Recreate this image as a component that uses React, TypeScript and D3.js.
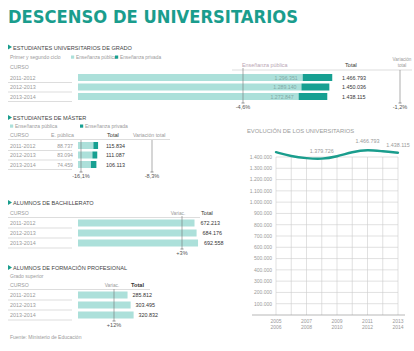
import React from "react";
import * as d3 from "d3";

const univCursos = ["2011-2012", "2012-2013", "2013-2014"];
const univPublica = [1296351, 1289140, 1272847];
const univTotal = [1466793, 1450036, 1438115];
const univVarPublica = "-4,6%";
const univVarTotal = "-1,2%";

const masterCursos = ["2011-2012", "2012-2013", "2013-2014"];
const masterPublica = [88737, 83094, 74459];
const masterTotal = [115834, 111087, 106113];
const masterVarPublica = "-16,1%";
const masterVarTotal = "-8,3%";

const bachCursos = ["2011-2012", "2012-2013", "2013-2014"];
const bachTotal = [672213, 684176, 692558];
const bachVar = "+3%";

const fpCursos = ["2011-2012", "2012-2013", "2013-2014"];
const fpTotal = [285812, 303495, 320832];
const fpVar = "+12%";

const evoCursos = [
  "2005-2006", "2006-2007", "2007-2008", "2008-2009", "2009-2010",
  "2010-2011", "2011-2012", "2012-2013", "2013-2014",
];
const evoValues = [1443000, 1406000, 1388000, 1379726, 1404000, 1445000, 1466793, 1450036, 1438115];
const evoLabeled = [3, 6, 8];
const evoTicks = d3.range(100000, 1400001, 100000);

const LIGHT = "#ace0da";
const DARK = "#17a092";
const TEAL = "#1a9d8d";
const GRAY = "#9a9a9a";
const TXT = "#333";
const FONT = "'Liberation Sans', Arial, sans-serif";

const loc = d3.formatLocale({ decimal: ",", thousands: ".", grouping: [3], currency: ["", "€"] });
const fmt = loc.format(",d");

const x = d3.scaleLinear().domain([0, 1500000]).range([78, 338]);

function SectionTitle({ y, text }: { y: number; text: string }) {
  return (
    <g>
      <path d={`M8,${y - 5} L12,${y - 2.5} L8,${y} Z`} fill={TEAL} />
      <text x={13} y={y} fontSize={5.6} fill="#444" fontFamily={FONT}>{text}</text>
    </g>
  );
}

function VarLine({ cx, y0, y1, label }: { cx: number; y0: number; y1: number; label: string }) {
  return (
    <g>
      <line x1={cx} x2={cx} y1={y0} y2={y1} stroke="#777" strokeWidth={0.6} />
      <line x1={cx - 1.5} x2={cx + 1.5} y1={y1} y2={y1} stroke="#777" strokeWidth={0.8} />
      <text x={cx} y={y1 + 6} fontSize={5.6} fill="#555" textAnchor="middle" fontFamily={FONT}>{label}</text>
    </g>
  );
}

function RowLabels({ cursos, ys }: { cursos: string[]; ys: number[] }) {
  return (
    <g>
      {cursos.map((c, i) => (
        <g key={c}>
          <text x={10} y={ys[i] + 2} fontSize={5.4} fill={GRAY} fontFamily={FONT}>{c}</text>
          <line x1={8} x2={72} y1={ys[i] + 5} y2={ys[i] + 5} stroke="#bbb" strokeWidth={0.5} />
        </g>
      ))}
    </g>
  );
}

export default function App() {
  const bh = 7;
  const uY = [77.5, 87, 96.5];
  const mY = [145.5, 155, 164.5];
  const bY = [223, 233, 243];
  const fY = [295, 305, 315];

  const ex = d3.scalePoint<string>().domain(evoCursos).range([276, 398]);
  const ey = d3.scaleLinear().domain([0, 1400000]).range([315, 157]);
  const line = d3
    .line<number>()
    .x((_, i) => ex(evoCursos[i]) as number)
    .y((d) => ey(d))
    .curve(d3.curveBasis);

  return (
    <svg width={414} height={351} style={{ position: "absolute", left: 0, top: 0, background: "#fff" }} fontFamily={FONT}>
      <text x={8} y={23} fontSize={18} fontWeight="bold" fill={TEAL} fontFamily="'DejaVu Sans', Verdana, sans-serif" textLength={290} lengthAdjust="spacingAndGlyphs">
        DESCENSO DE UNIVERSITARIOS
      </text>

      {/* Universitarios de grado */}
      <SectionTitle y={49.5} text="ESTUDIANTES UNIVERSITARIOS DE GRADO" />
      <text x={10} y={59} fontSize={5} fill={GRAY}>Primer y segundo ciclo</text>
      <rect x={71} y={55.5} width={3.2} height={3.2} fill={LIGHT} />
      <text x={76} y={59} fontSize={4.8} fill={GRAY}>Enseñanza pública</text>
      <rect x={115} y={55.5} width={3.2} height={3.2} fill={DARK} />
      <text x={120} y={59} fontSize={4.8} fill={GRAY}>Enseñanza privada</text>
      <text x={10} y={69} fontSize={5.2} fill={GRAY}>CURSO</text>
      <text x={242} y={67} fontSize={5.4} fill="#b9a5b3">Enseñanza pública</text>
      <text x={345} y={67} fontSize={5.6} fill={TXT}>Total</text>
      <text x={402} y={61} fontSize={4.6} fill={GRAY} textAnchor="middle">Variación</text>
      <text x={402} y={66.5} fontSize={4.6} fill={GRAY} textAnchor="middle">total</text>
      <line x1={232} x2={412} y1={70} y2={70} stroke="#bbb" strokeWidth={0.5} />
      <RowLabels cursos={univCursos} ys={uY} />
      {univCursos.map((c, i) => (
        <g key={c}>
          <rect x={x(0)} y={uY[i] - bh / 2} width={x(univPublica[i]) - x(0)} height={bh} fill={LIGHT} />
          <rect x={x(univPublica[i])} y={uY[i] - bh / 2} width={x(univTotal[i]) - x(univPublica[i])} height={bh} fill={DARK} />
          <text x={x(univPublica[i]) - 5} y={uY[i] + 2} fontSize={5.2} fill="#7fa9a5" textAnchor="end">{fmt(univPublica[i])}</text>
          <text x={342} y={uY[i] + 2} fontSize={5.4} fill={TXT}>{fmt(univTotal[i])}</text>
        </g>
      ))}
      <VarLine cx={243} y0={68} y1={103} label={univVarPublica} />
      <VarLine cx={400} y0={70} y1={103} label={univVarTotal} />

      {/* Master */}
      <SectionTitle y={120} text="ESTUDIANTES DE MÁSTER" />
      <rect x={10} y={124.5} width={3.2} height={3.2} fill={LIGHT} />
      <text x={15} y={128} fontSize={5} fill={GRAY}>Enseñanza pública</text>
      <rect x={80} y={124.5} width={3.2} height={3.2} fill={DARK} />
      <text x={85} y={128} fontSize={5} fill={GRAY}>Enseñanza privada</text>
      <text x={10} y={137} fontSize={5.2} fill={GRAY}>CURSO</text>
      <text x={51} y={137} fontSize={5.2} fill={GRAY}>E. pública</text>
      <text x={107} y={137} fontSize={5.6} fill={TXT}>Total</text>
      <text x={133} y={137} fontSize={5.2} fill={GRAY}>Variación total</text>
      <line x1={8} x2={170} y1={139.5} y2={139.5} stroke="#bbb" strokeWidth={0.5} />
      <RowLabels cursos={masterCursos} ys={mY} />
      {masterCursos.map((c, i) => (
        <g key={c}>
          <text x={73} y={mY[i] + 2} fontSize={5.2} fill={GRAY} textAnchor="end">{fmt(masterPublica[i])}</text>
          <rect x={x(0)} y={mY[i] - bh / 2} width={x(masterPublica[i]) - x(0)} height={bh} fill={LIGHT} />
          <rect x={x(masterPublica[i])} y={mY[i] - bh / 2} width={x(masterTotal[i]) - x(masterPublica[i])} height={bh} fill={DARK} />
          <text x={106} y={mY[i] + 2} fontSize={5.4} fill={TXT}>{fmt(masterTotal[i])}</text>
        </g>
      ))}
      <VarLine cx={81} y0={140} y1={172} label={masterVarPublica} />
      <VarLine cx={152} y0={140} y1={172} label={masterVarTotal} />

      {/* Bachillerato */}
      <SectionTitle y={205} text="ALUMNOS DE BACHILLERATO" />
      <text x={10} y={215} fontSize={5.2} fill={GRAY}>CURSO</text>
      <text x={178} y={215} fontSize={4.8} fill={GRAY} textAnchor="middle">Variac.</text>
      <text x={201} y={215} fontSize={5.6} fill={TXT}>Total</text>
      <line x1={8} x2={200} y1={217.5} y2={217.5} stroke="#bbb" strokeWidth={0.5} />
      <RowLabels cursos={bachCursos} ys={bY} />
      {bachCursos.map((c, i) => (
        <g key={c}>
          <rect x={x(0)} y={bY[i] - bh / 2} width={x(bachTotal[i]) - x(0)} height={bh} fill={LIGHT} />
          <text x={x(bachTotal[i]) + 6} y={bY[i] + 2} fontSize={5.4} fill={TXT}>{fmt(bachTotal[i])}</text>
        </g>
      ))}
      <VarLine cx={182} y0={216} y1={249} label={bachVar} />

      {/* FP */}
      <SectionTitle y={270} text="ALUMNOS DE FORMACIÓN PROFESIONAL" />
      <text x={10} y={278} fontSize={5} fill={GRAY}>Grado superior</text>
      <text x={10} y={287} fontSize={5.2} fill={GRAY}>CURSO</text>
      <text x={112} y={287} fontSize={4.8} fill={GRAY} textAnchor="middle">Variac.</text>
      <text x={131} y={287} fontSize={5.6} fill={TXT} fontWeight="bold">Total</text>
      <line x1={8} x2={150} y1={289.5} y2={289.5} stroke="#bbb" strokeWidth={0.5} />
      <RowLabels cursos={fpCursos} ys={fY} />
      {fpCursos.map((c, i) => (
        <g key={c}>
          <rect x={x(0)} y={fY[i] - bh / 2} width={x(fpTotal[i]) - x(0)} height={bh} fill={LIGHT} />
          <text x={x(fpTotal[i]) + 5} y={fY[i] + 2} fontSize={5.4} fill={TXT}>{fmt(fpTotal[i])}</text>
        </g>
      ))}
      <VarLine cx={114} y0={289} y1={321} label={fpVar} />
      <text x={10} y={339} fontSize={5} fill={GRAY}>Fuente: Ministerio de Educación</text>

      {/* Evolución */}
      <text x={247} y={133} fontSize={5.8} fill={GRAY}>EVOLUCIÓN DE LOS UNIVERSITARIOS</text>
      {evoTicks.map((t) => (
        <g key={t}>
          <line x1={276} x2={398} y1={ey(t)} y2={ey(t)} stroke="#ccc" strokeWidth={0.6} />
          <text x={272} y={ey(t) + 1.8} fontSize={5} fill={GRAY} textAnchor="end">{fmt(t)}</text>
        </g>
      ))}
      {evoCursos.map((c, i) => (
        <g key={c}>
          <line x1={ex(c)} x2={ex(c)} y1={ey(1400000)} y2={ey(0)} stroke="#ccc" strokeWidth={0.6} />
          {i % 2 === 0 && (
            <text x={ex(c)} y={323} fontSize={5} fill={GRAY} textAnchor="middle">
              <tspan x={ex(c)} dy={0}>{c.split("-")[0]}</tspan>
              <tspan x={ex(c)} dy={6}>{c.split("-")[1]}</tspan>
            </text>
          )}
        </g>
      ))}
      <line x1={252} x2={405} y1={ey(0)} y2={ey(0)} stroke="#999" strokeWidth={0.7} />
      <path d={line(evoValues) as string} fill="none" stroke={TEAL} strokeWidth={2.4} strokeLinecap="round" />
      {evoLabeled.map((i) => (
        <text key={i} x={ex(evoCursos[i])} y={ey(evoValues[i]) - 6} fontSize={5.4} fill={GRAY} textAnchor="middle">
          {fmt(evoValues[i])}
        </text>
      ))}
    </svg>
  );
}
